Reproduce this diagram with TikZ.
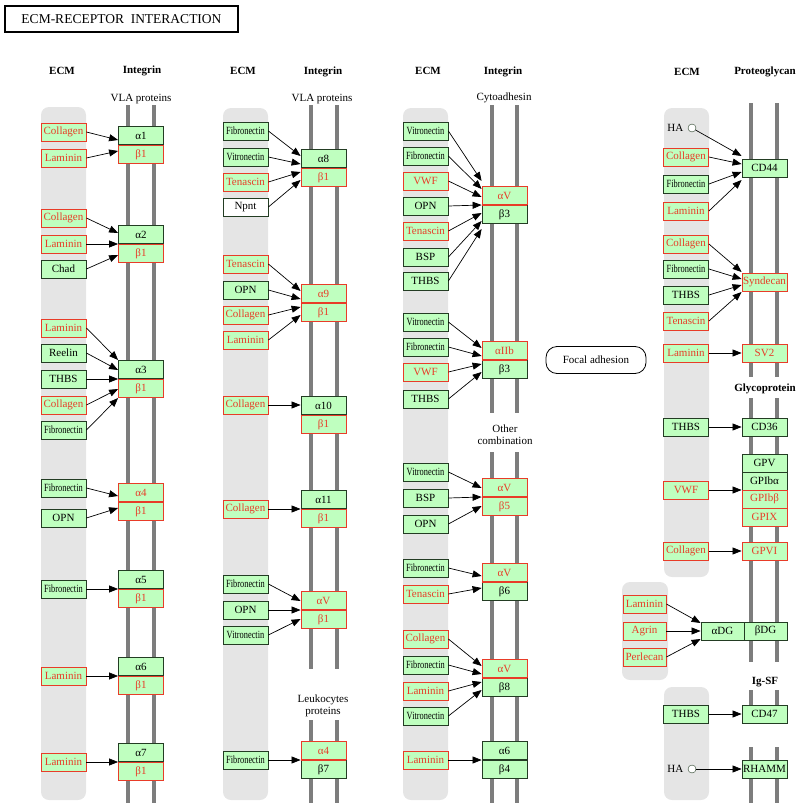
\documentclass[tikz,border=0pt]{standalone}
\usepackage{fontspec}
\setmainfont{Liberation Serif}
\usetikzlibrary{arrows.meta, positioning}
\definecolor{kgreen}{RGB}{191,255,191}
\definecolor{kred}{RGB}{232,60,40}
\definecolor{kdark}{RGB}{35,60,35}
\definecolor{kband}{RGB}{229,229,229}
\definecolor{kmem}{RGB}{125,125,125}
\newcommand{\narrowtext}[1]{\scalebox{0.76}[1]{#1}}

\begin{document}
\begin{tikzpicture}
    [
        x=1pt, y=-1pt,
        gene/.style={
            draw=kdark,
            fill=kgreen,
            line width=0.8pt,
            minimum width=45pt,
            minimum height=18pt,
            inner sep=0pt,
            font=\fontsize{11}{11}\selectfont
        },
        redgene/.style={gene, draw=kred, text=kred},
        plaingene/.style={gene, fill=white},
        band/.style={fill=kband, rounded corners=8pt},
        membrane/.style={draw=kmem, line width=4pt},
        arr/.style={-{Triangle[length=9pt,width=7pt]}, line width=0.7pt},
        header/.style={font=\fontsize{11}{12}\selectfont\bfseries},
        family/.style={font=\fontsize{11}{12}\selectfont, align=center}
    ]
    \useasboundingbox (0,0) rectangle (800,803);

    % title
    \node[draw, line width=2.5pt, minimum width=233pt, minimum height=26pt,
        font=\fontsize{13.5}{13.5}\selectfont] (title) at (121.5,19) {ECM-RECEPTOR\ \ INTERACTION};

    % ECM bands
    \fill[band] (41,107) rectangle (86,800);
    \fill[band] (223,108) rectangle (268,800);
    \fill[band] (403,108) rectangle (448,800);
    \fill[band] (664,108) rectangle (709,577);
    \fill[band] (622,582) rectangle (668,680);
    \fill[band] (664,687) rectangle (709,800);

    % membranes
    \foreach \x in {128,154}
        \draw[membrane] (\x,105) -- (\x,803);
    \foreach \x in {311,337} {
        \draw[membrane] (\x,105) -- (\x,669);
        \draw[membrane] (\x,720) -- (\x,803);
    }
    \foreach \x in {492,517} {
        \draw[membrane] (\x,105) -- (\x,413);
        \draw[membrane] (\x,452) -- (\x,803);
    }
    \foreach \x in {751,777} {
        \draw[membrane] (\x,103) -- (\x,377);
        \draw[membrane] (\x,398) -- (\x,662);
        \draw[membrane] (\x,690) -- (\x,723);
        \draw[membrane] (\x,747) -- (\x,803);
    }

    % headers
    \node[header] (ecm1) at (62,71) {ECM};
    \node[header] (int1) at (142,71) {Integrin};
    \node[family] (vla1) at (141,99) {VLA proteins};
    \node[header] (ecm2) at (243,71) {ECM};
    \node[header] (int2) at (323,72) {Integrin};
    \node[family] (vla2) at (322,99) {VLA proteins};
    \node[header] (ecm3) at (428,71) {ECM};
    \node[header] (int3) at (503,72) {Integrin};
    \node[family] (cyto) at (504,98) {Cytoadhesin};
    \node[family] (leuko) at (323,706) {Leukocytes\\proteins};
    \node[family] (other) at (505,435) {Other\\combination};
    \node[header] (ecm4) at (687,72) {ECM};
    \node[header] (proteo) at (765,72) {Proteoglycan};
    \node[header] (glyco) at (765,389) {Glycoprotein};
    \node[header] (igsf) at (765,682) {Ig-SF};

    % integrin pairs
    \foreach \n/\x/\y/\ta/\sa/\tb/\sb/\c in {
        1/141/145/α1/gene/β1/redgene/kred,
        2/141/244/α2/gene/β1/redgene/kred,
        3/141/379/α3/gene/β1/redgene/kred,
        4/141/502/α4/redgene/β1/redgene/kred,
        5/141/589/α5/gene/β1/redgene/kred,
        6/141/676/α6/gene/β1/redgene/kred,
        7/141/762/α7/gene/β1/redgene/kred,
        8/323.5/168/α8/gene/β1/redgene/kred,
        9/323.5/303/α9/redgene/β1/redgene/kred,
        10/323.5/415/α10/gene/β1/redgene/kred,
        11/323.5/509/α11/gene/β1/redgene/kred,
        12/323.5/610/αV/redgene/β1/redgene/kred,
        13/323.5/760/α4/redgene/β7/gene/kred,
        14/504.5/205/αV/redgene/β3/gene/kred,
        15/504.5/360/αIIb/redgene/β3/gene/kred,
        16/504.5/497/αV/redgene/β5/redgene/kred,
        17/504.5/582/αV/redgene/β6/gene/kred,
        18/504.5/678/αV/redgene/β8/gene/kred,
        19/504.5/760/α6/gene/β4/gene/kdark}
    {
        \node[\sa, anchor=south] (a\n) at (\x,\y) {\ta};
        \node[\sb, anchor=north] (b\n) at (\x,\y) {\tb};
        \draw[\c, line width=0.8pt] (a\n.south west) -- (a\n.south east);
    }

    % column 1
    \foreach \n/\t/\s/\y/\g/\o in {
        c1s1/Collagen/redgene/132/a1/5,
        c1s2/Laminin/redgene/158/a1/-6,
        c1s3/Collagen/redgene/218/a2/11,
        c1s4/Laminin/redgene/244/a2/0,
        c1s5/Chad/gene/269/a2/-11,
        c1s6/Laminin/redgene/328/a3/19,
        c1s7/Reelin/gene/353/a3/9,
        c1s8/THBS/gene/379/a3/0,
        c1s9/Collagen/redgene/405/a3/-10,
        c1s10/\narrowtext{Fibronectin}/gene/430/a3/-19,
        c1s11/\narrowtext{Fibronectin}/gene/488/a4/6,
        c1s12/OPN/gene/518/a4/-6,
        c1s13/\narrowtext{Fibronectin}/gene/589/a5/0,
        c1s14/Laminin/redgene/676/a6/0,
        c1s15/Laminin/redgene/762/a7/0}
    {
        \node[\s] (\n) at (63.5,\y) {\t};
        \draw[arr] (\n.east) -- ([yshift=\o pt]\g.south west);
    }

    % column 2
    \foreach \n/\t/\s/\y/\g/\o in {
        c2s1/\narrowtext{Fibronectin}/gene/131/a8/12,
        c2s2/\narrowtext{Vitronectin}/gene/157/a8/4,
        c2s3/Tenascin/redgene/182/a8/-4,
        c2s4/Npnt/plaingene/207/a8/-12,
        c2s5/Tenascin/redgene/264/a9/12,
        c2s6/OPN/gene/290/a9/4,
        c2s7/Collagen/redgene/315/a9/-4,
        c2s8/Laminin/redgene/340/a9/-12,
        c2s9/Collagen/redgene/405/a10/10,
        c2s10/Collagen/redgene/509/a11/0,
        c2s11/\narrowtext{Fibronectin}/gene/584/a12/9,
        c2s12/OPN/gene/610/a12/0,
        c2s13/\narrowtext{Vitronectin}/gene/635/a12/-9,
        c2s14/\narrowtext{Fibronectin}/gene/760/a13/0}
    {
        \node[\s] (\n) at (245.5,\y) {\t};
        \draw[arr] (\n.east) -- ([yshift=\o pt]\g.south west);
    }

    % column 3
    \foreach \n/\t/\s/\y/\g/\o in {
        c3s1/\narrowtext{Vitronectin}/gene/131/a14/24,
        c3s2/\narrowtext{Fibronectin}/gene/156/a14/16,
        c3s3/VWF/redgene/181/a14/8,
        c3s4/OPN/gene/206/a14/0,
        c3s5/Tenascin/redgene/231/a14/-8,
        c3s6/BSP/gene/257/a14/-16,
        c3s7/THBS/gene/281/a14/-24,
        c3s8/\narrowtext{Vitronectin}/gene/322/a15/12,
        c3s9/\narrowtext{Fibronectin}/gene/347/a15/4,
        c3s10/VWF/redgene/372/a15/-4,
        c3s11/THBS/gene/399/a15/-12,
        c3s12/\narrowtext{Vitronectin}/gene/472/a16/9,
        c3s13/BSP/gene/498/a16/0,
        c3s14/OPN/gene/524/a16/-9,
        c3s15/\narrowtext{Fibronectin}/gene/568/a17/6,
        c3s16/Tenascin/redgene/594/a17/-6,
        c3s17/Collagen/redgene/639/a18/12,
        c3s18/\narrowtext{Fibronectin}/gene/665/a18/4,
        c3s19/Laminin/redgene/691/a18/-4,
        c3s20/\narrowtext{Vitronectin}/gene/716/a18/-12,
        c3s21/Laminin/redgene/760/a19/0}
    {
        \node[\s] (\n) at (425.5,\y) {\t};
        \draw[arr] (\n.east) -- ([yshift=\o pt]\g.south west);
    }

    \node[draw=black, line width=0.8pt, rounded corners=11pt, minimum width=100pt, minimum height=27pt,
        font=\fontsize{11}{11}\selectfont] (focal) at (596,360) {Focal adhesion};

    % column 4 receptors
    \node[gene] (cd44) at (764.5,168) {CD44};
    \node[redgene] (syn) at (764.5,282) {Syndecan};
    \node[redgene] (sv2) at (764.5,353) {SV2};
    \node[gene] (cd36) at (764.5,427) {CD36};
    \node[gene] (gpv) at (764.5,463) {GPV};
    \node[gene] (gpiba) at (764.5,481) {GPIbα};
    \node[redgene] (gpibb) at (764.5,499) {GPIbβ};
    \node[redgene] (gpix) at (764.5,517) {GPIX};
    \node[redgene] (gpvi) at (764.5,551) {GPVI};
    \node[gene, minimum width=43pt] (adg) at (722.5,631) {αDG};
    \node[gene, minimum width=43pt] (bdg) at (765.5,631) {βDG};
    \node[gene] (cd47) at (764.5,714) {CD47};
    \node[gene] (rhamm) at (764.5,769) {RHAMM};

    % HA
    \node[draw=kdark, fill=white, circle, inner sep=0pt, minimum size=8pt] (ha1) at (692,128) {};
    \node[left=1pt of ha1, font=\fontsize{11}{11}\selectfont] (ha1text) {HA};
    \draw[arr] (ha1) -- ([yshift=12pt]cd44.west);
    \node[draw=kdark, fill=white, circle, inner sep=0pt, minimum size=8pt] (ha2) at (692,769) {};
    \node[left=1pt of ha2, font=\fontsize{11}{11}\selectfont] (ha2text) {HA};
    \draw[arr] (ha2) -- (rhamm.west);

    % column 4
    \foreach \n/\t/\s/\y/\g/\o in {
        c4s1/Collagen/redgene/157/cd44/4,
        c4s2/\narrowtext{Fibronectin}/gene/184/cd44/-4,
        c4s3/Laminin/redgene/211/cd44/-12,
        c4s4/Collagen/redgene/244/syn/10,
        c4s5/\narrowtext{Fibronectin}/gene/269/syn/3,
        c4s6/THBS/gene/295/syn/-3,
        c4s7/Tenascin/redgene/321/syn/-10,
        c4s8/Laminin/redgene/353/sv2/0,
        c4s9/THBS/gene/427/cd36/0,
        c4s10/VWF/redgene/490/gpiba/-9,
        c4s11/Collagen/redgene/551/gpvi/0,
        c4s12/THBS/gene/714/cd47/0}
    {
        \node[\s] (\n) at (686,\y) {\t};
        \draw[arr] (\n.east) -- ([yshift=\o pt]\g.west);
    }
    \foreach \n/\t/\y/\o in {
        c4s13/Laminin/604/8,
        c4s14/Agrin/631/0,
        c4s15/Perlecan/657/-8}
    {
        \node[redgene, minimum width=43pt] (\n) at (644.5,\y) {\t};
        \draw[arr] (\n.east) -- ([yshift=\o pt]adg.west);
    }
\end{tikzpicture}
\end{document}
